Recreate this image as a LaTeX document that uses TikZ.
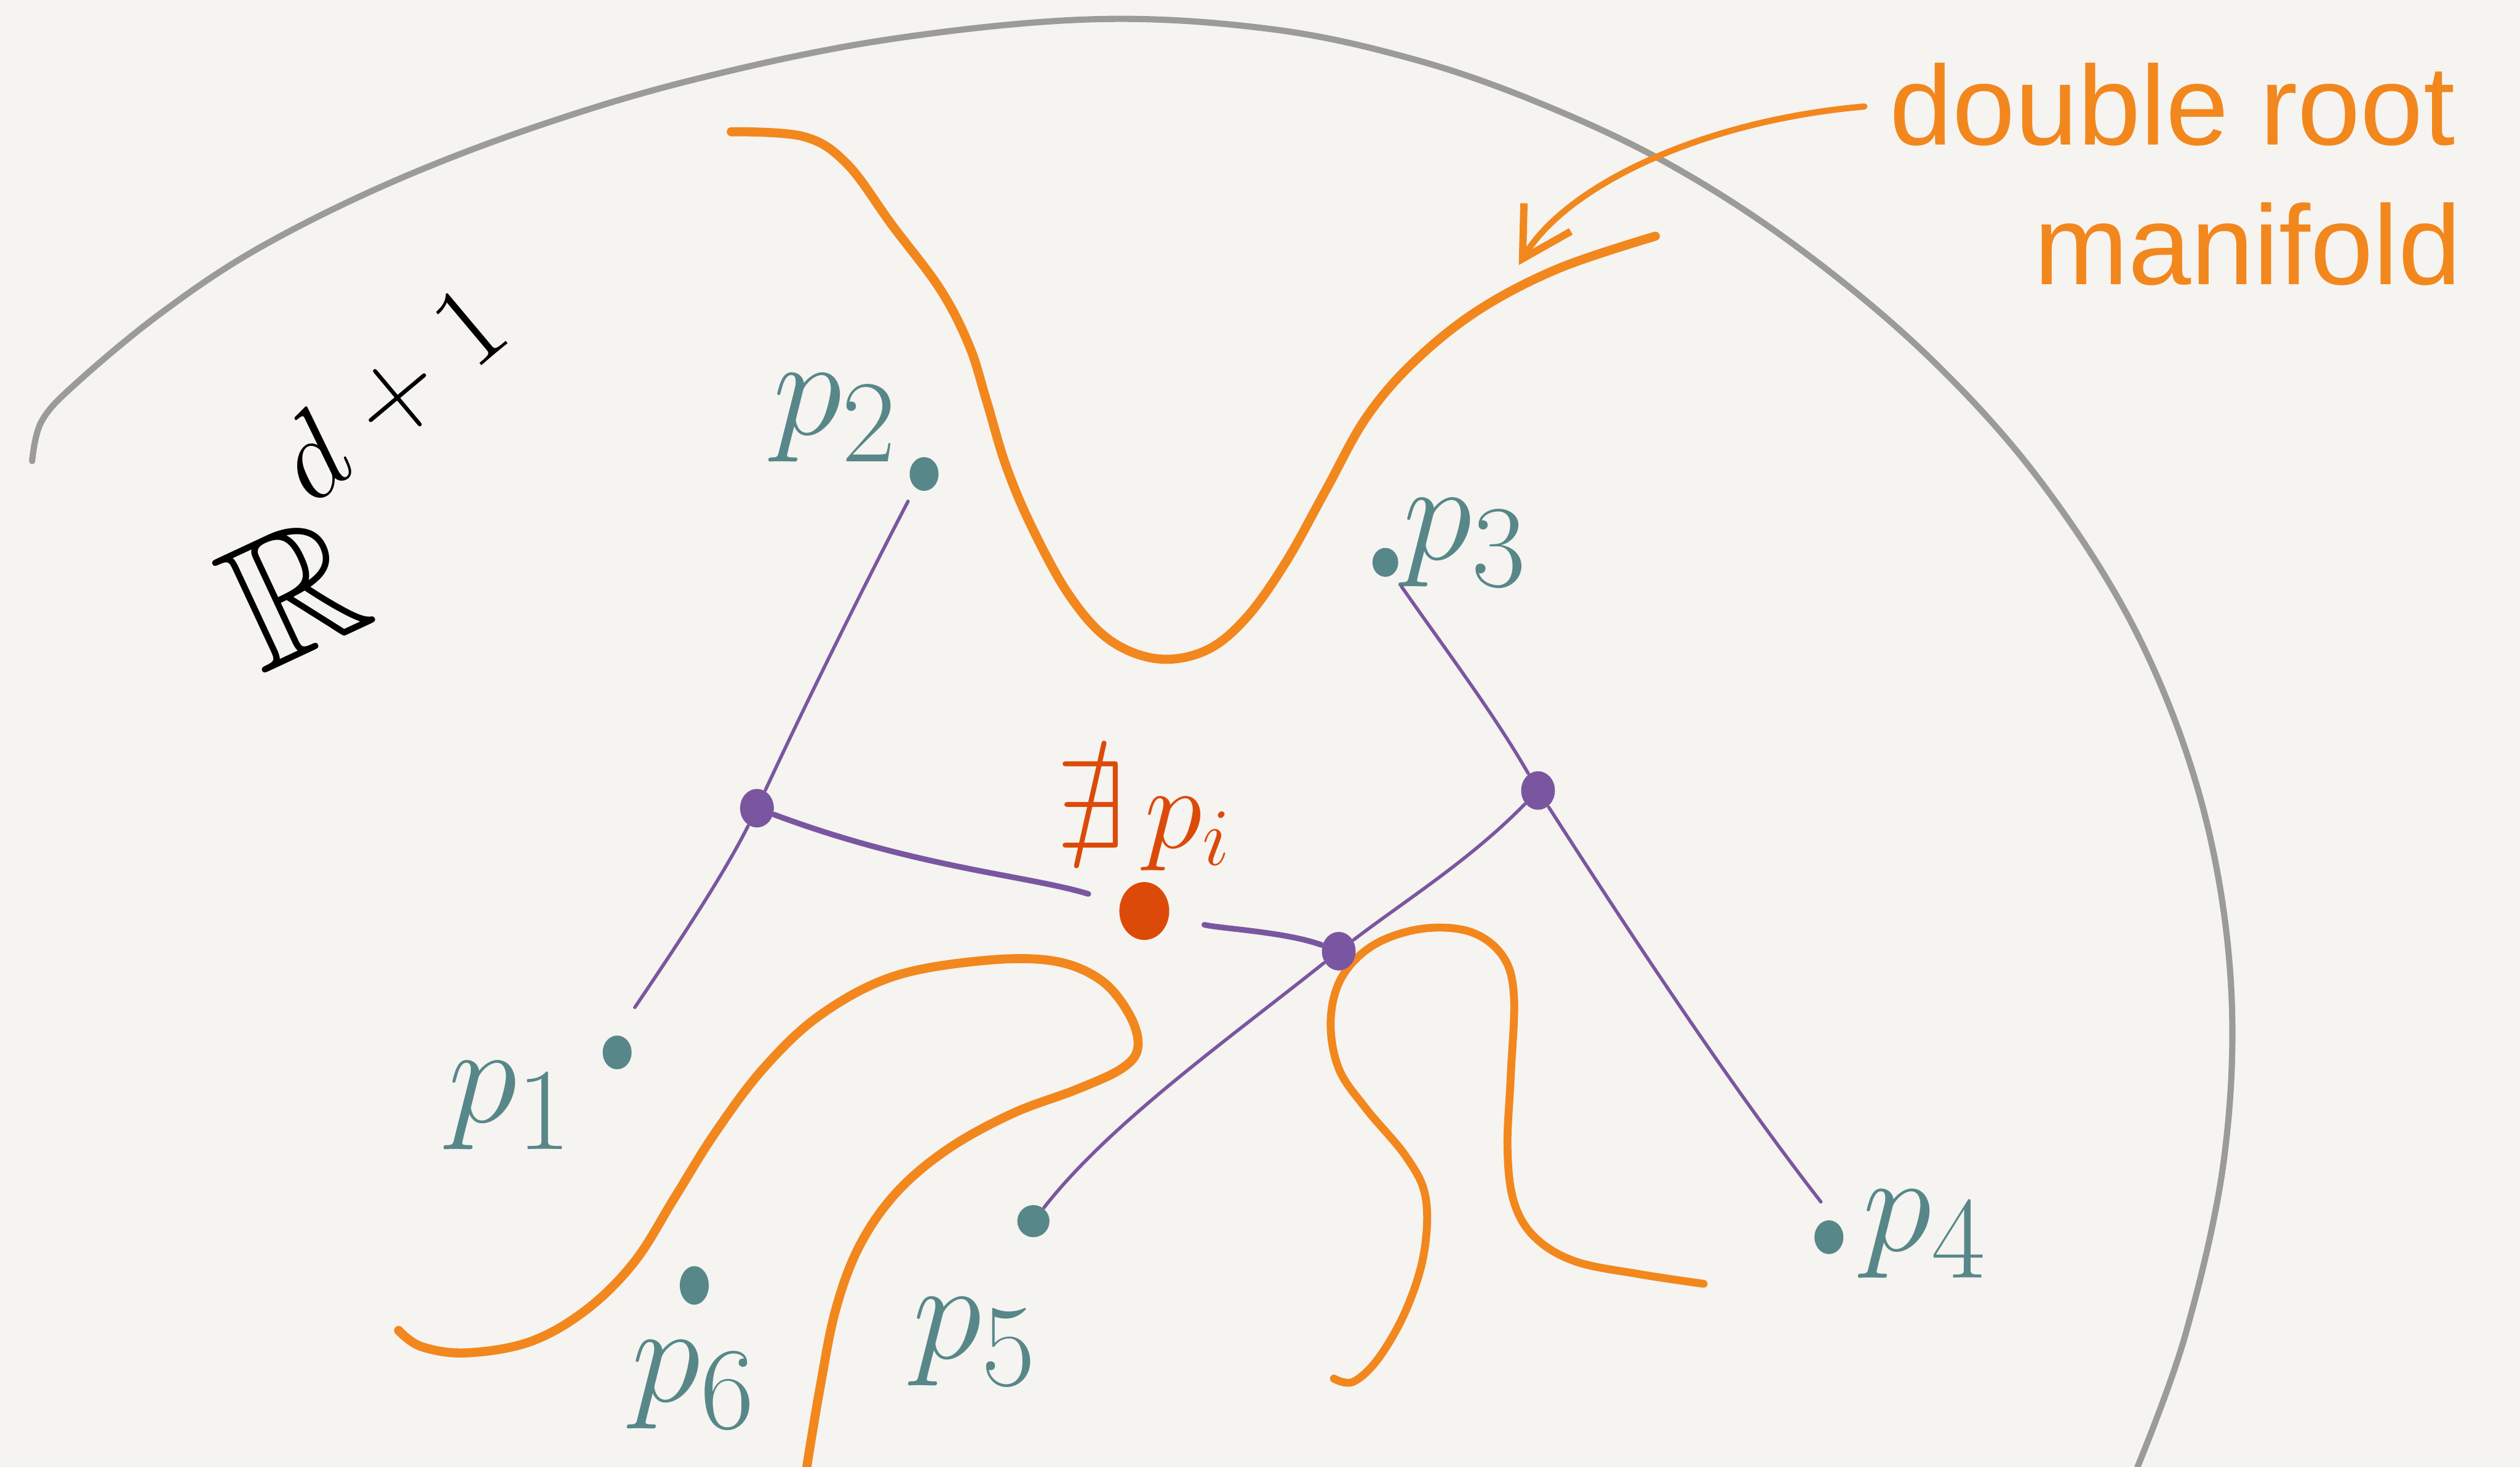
\documentclass[tikz,border=0pt]{standalone}
\usepackage{amssymb}
\usepackage{fontspec}
\newfontfamily\handfont{Liberation Sans}
\usetikzlibrary{arrows.meta,shapes.geometric}
\definecolor{bgc}{RGB}{245,244,240}
\definecolor{grayc}{RGB}{155,155,153}
\definecolor{orangec}{RGB}{242,135,30}
\definecolor{redc}{RGB}{220,74,10}
\definecolor{tealc}{RGB}{88,135,137}
\definecolor{purpc}{RGB}{123,86,160}
\begin{document}
\begin{tikzpicture}[x=0.01cm,y=-0.01cm,
  boundary/.style={draw=grayc,line width=1.1pt,line cap=round},
  manif/.style={draw=orangec,line width=1.6pt,line cap=round},
  pointer/.style={draw=orangec,line width=1.1pt,line cap=round,
    -{Straight Barb[length=0.3cm,width=0.34cm,line width=1.3pt]}},
  edge/.style={draw=purpc,line width=0.6pt,line cap=round},
  thickedge/.style={draw=purpc,line width=1.0pt,line cap=round},
  tealdot/.style={ellipse,fill=tealc,draw=none,inner sep=0pt,minimum width=0.18cm,minimum height=0.21cm},
  vdot/.style={ellipse,fill=purpc,draw=none,inner sep=0pt,minimum width=0.21cm,minimum height=0.24cm},
  reddot/.style={ellipse,fill=redc,draw=none,inner sep=0pt,minimum width=0.31cm,minimum height=0.36cm},
  plab/.style={text=tealc,inner sep=0pt,font=\fontsize{30}{34}\selectfont},
  handlab/.style={text=orangec,inner sep=0pt,font=\handfont\fontsize{20}{24}\selectfont}
]
\useasboundingbox (0,0) rectangle (1568,913);
\fill[bgc] (0,0) rectangle (1568,913);

% ambient space boundary
\draw[boundary] plot[smooth,tension=0.6] coordinates {
 (20,287) (26,262) (48,238) (100,195) (160,155) (240,115) (330,80) (430,50)
 (550,25) (680,12) (790,18) (880,37) (960,65) (1040,103) (1120,155)
 (1200,222) (1270,300) (1330,395) (1370,500) (1388,610) (1384,720)
 (1360,830) (1330,913)};

% double root manifold curves
\draw[manif] plot[smooth,tension=0.6] coordinates {
 (455,82) (500,85) (527,102) (555,140) (585,180) (603,215) (614,250) (626,290)
 (642,328) (665,370) (690,398) (720,410) (750,405) (775,385) (800,350) (825,305)
 (850,260) (880,225) (920,193) (970,167) (1030,147)};
\draw[manif] plot[smooth,tension=0.6] coordinates {
 (248,828) (262,838) (290,842) (330,835) (365,815) (395,785) (420,745) (445,705)
 (475,665) (510,632) (555,608) (610,598) (655,598) (685,610) (703,632) (708,652)
 (698,665) (670,678) (630,693) (590,715) (558,742) (535,775) (520,815) (510,865) (502,913)};
\draw[manif,line width=1.4pt] plot[smooth,tension=0.6] coordinates {
 (830,858) (842,860) (858,845) (875,815) (886,780) (887,745) (875,720) (850,690)
 (833,665) (828,635) (835,608) (855,588) (885,578) (915,580) (935,595) (942,620)
 (940,670) (938,715) (942,748) (955,770) (980,785) (1020,793) (1060,799)};

% labels
\node[handlab,anchor=west] (dr) at (1175,65) {double root};
\node[handlab,anchor=west] (mf) at (1265,152) {manifold};
\coordinate (tip) at (945,165);
\draw[pointer,shorten <=0.15cm] (dr.west) .. controls (1060,75) and (975,115) .. (tip);

\node[rotate=25,inner sep=0pt,font=\fontsize{32}{36}\selectfont] (R) at (183,368) {$\mathbb{R}$};
\node[rotate=40,inner sep=0pt,font=\fontsize{22}{26}\selectfont] (Rsup) at (243,245) {$d\;{+}\;1$};

% data points
\node[tealdot] (p1) at (384,655) {};
\node[tealdot] (p2) at (575,295) {};
\node[tealdot,minimum width=0.16cm,minimum height=0.18cm] (p3) at (862,350) {};
\node[tealdot] (p4) at (1138,770) {};
\node[tealdot,minimum width=0.2cm,minimum height=0.2cm] (p5) at (643,760) {};
\node[tealdot,minimum height=0.24cm] (p6) at (432,800) {};

\node[plab] (l1) at (318,688) {$p_1$};
\node[plab] (l2) at (520,260) {$p_2$};
\node[plab] (l3) at (912,338) {$p_3$};
\node[plab] (l4) at (1198,768) {$p_4$};
\node[plab] (l5) at (607,835) {$p_5$};
\node[plab] (l6) at (432,862) {$p_6$};

% vertices and the empty point
\node[vdot] (v1) at (471,503) {};
\node[vdot] (v2) at (833,592) {};
\node[vdot] (v3) at (957,492) {};
\node[reddot] (q) at (712,567) {};
\node[text=redc,inner sep=0pt,font=\fontsize{22}{26}\selectfont] (ql) at (712,508) {$\nexists\, p_i$};

\coordinate (e12) at (565,312);
\coordinate (e11) at (395,627);
\coordinate (e33) at (872,365);
\coordinate (e34) at (1133,748);

\draw[edge] (v1) .. controls (505,430) and (540,360) .. (e12);
\draw[edge] (v1) .. controls (450,545) and (420,590) .. (e11);
\draw[thickedge,shorten >=0.2cm] (v1) .. controls (570,540) and (640,545) .. (q);
\draw[thickedge,shorten <=0.22cm] (q) .. controls (760,578) and (800,580) .. (v2);
\draw[edge] (v2) .. controls (875,560) and (915,535) .. (v3);
\draw[edge] (v2) .. controls (760,650) and (690,700) .. (p5);
\draw[edge] (v3) .. controls (930,445) and (900,405) .. (e33);
\draw[edge] (v3) .. controls (1020,590) and (1080,680) .. (e34);
\end{tikzpicture}
\end{document}
